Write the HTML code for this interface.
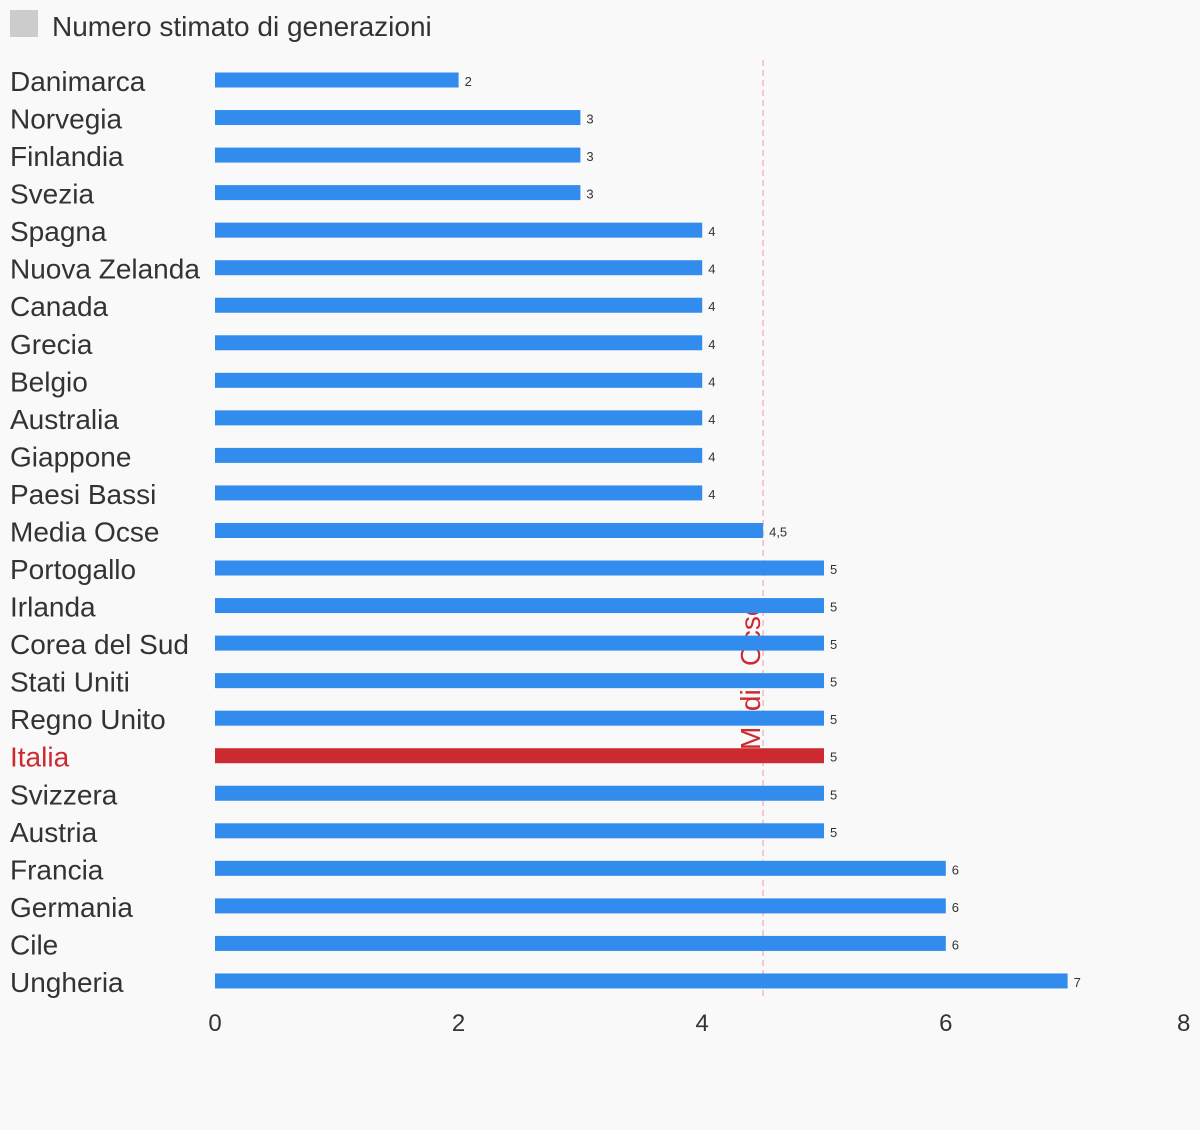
<!DOCTYPE html>
<html><head><meta charset="utf-8"><style>
body{margin:0;background:#f9f9f9;}
svg{display:block;font-family:"Liberation Sans",sans-serif;}
</style></head><body>
<svg id="chart" width="1200" height="1130">
<rect x="0" y="0" width="1200" height="1130" fill="#f9f9f9"/>
<rect x="10" y="10" width="28" height="27" fill="#cccccc"/>
<text x="52" y="36" font-size="28" fill="#333">Numero stimato di generazioni</text>
<g id="marks"></g>
</svg>
<script>
const categories=["Danimarca","Norvegia","Finlandia","Svezia","Spagna","Nuova Zelanda","Canada","Grecia","Belgio","Australia","Giappone","Paesi Bassi","Media Ocse","Portogallo","Irlanda","Corea del Sud","Stati Uniti","Regno Unito","Italia","Svizzera","Austria","Francia","Germania","Cile","Ungheria"];
const values=[2,3,3,3,4,4,4,4,4,4,4,4,4.5,5,5,5,5,5,5,5,5,6,6,6,7];
const tickValues=[0,2,4,6,8];
const averageValue=4.5;
const highlight="Italia";
const NS="http://www.w3.org/2000/svg";
const g=document.getElementById('marks');
const x=v=>215+v*121.8;
const y=i=>80+i*37.54;
function mk(t,a){const e=document.createElementNS(NS,t);for(const k in a)e.setAttribute(k,a[k]);g.appendChild(e);return e;}
// average line and label (behind bars)
let l=mk('line',{x1:x(averageValue),x2:x(averageValue),y1:60,y2:1000,stroke:'#f4b8c4','stroke-width':1.5,'stroke-dasharray':'6,4'});


let at=mk('text',{x:0,y:0,'font-size':28,fill:'#cc2a30',transform:`translate(${x(averageValue)-3},750) rotate(-90)`});
at.textContent='Media Ocse';


categories.forEach((c,i)=>{
  const hl=c===highlight;
  const lab=mk('text',{x:10,y:y(i)+11,'font-size':28,fill:hl?'#cc2a30':'#333'});
  lab.textContent=c;
  
  
  const r=mk('rect',{x:x(0),y:y(i)-7.5,width:x(values[i])-x(0),height:15,fill:hl?'#cc2a30':'#318ced'});
  
  
  const v=mk('text',{x:x(values[i])+6,y:y(i)+6,'font-size':13,fill:'#333'});
  v.textContent=String(values[i]).replace('.',',');
  
  
});
tickValues.forEach(t=>{
  const last=t===tickValues[tickValues.length-1];
  const e=mk('text',{x:last?x(t)+1:x(t),y:1031,'font-size':24,fill:'#333','text-anchor':last?'end':'middle'});
  e.textContent=t;
  
  
});
</script>
</body></html>
